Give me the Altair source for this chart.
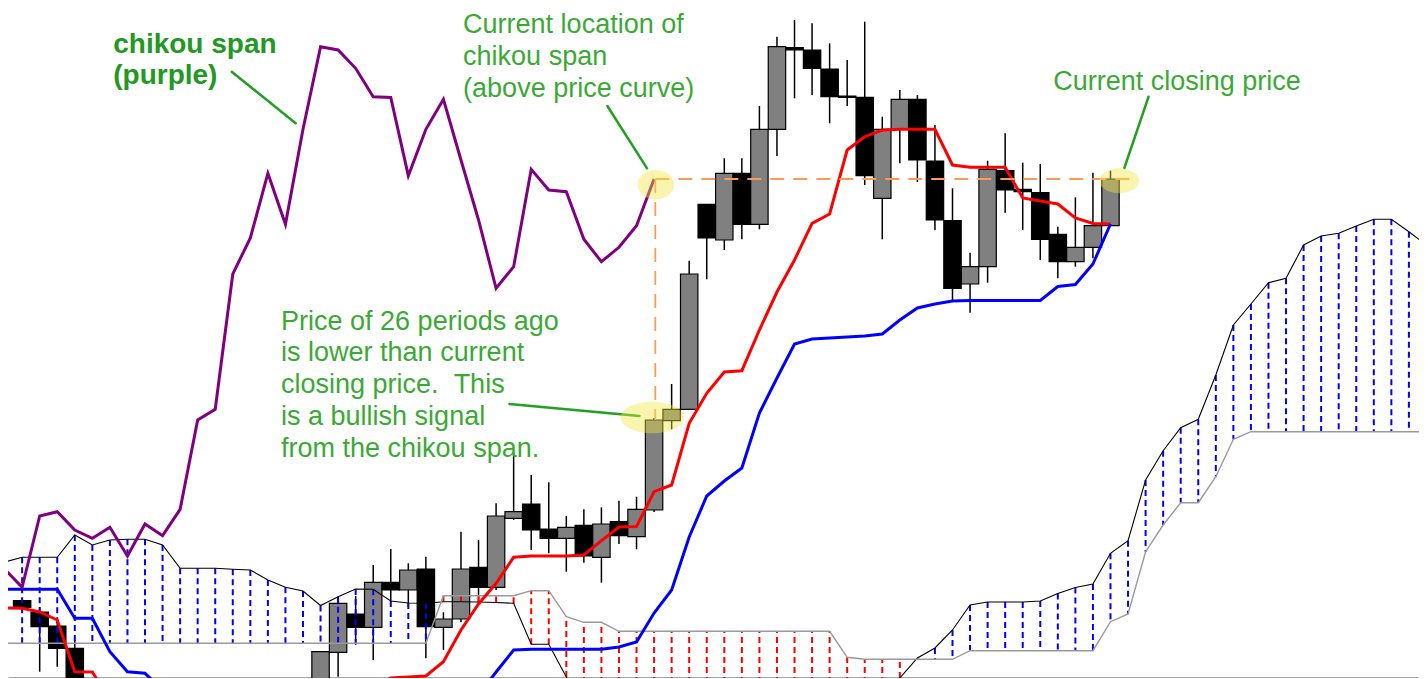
import altair as alt
import pandas as pd

# ---------------- data (price units; bar index on x) ----------------
bar_idx = [0, 1, 2, 3] + list(range(17, 63))
opens = [77.3, 66, 52, 29.7,
         -22, 25.7, 64, 50.7, 95.7, 88, 109, 50.7, 59, 110.7,
         90.7, 159.7, 174, 149, 139.7, 152.7, 120.7, 156.3, 141.3, 168,
         257.3, 268.7, 473.7, 438, 504.7, 453.7, 548.7, 630.5, 628, 609,
         582, 580.7, 479.7, 548.7, 578.7, 517, 457.3, 394, 411.3, 507.3,
         488.7, 485.3, 443.7, 416.3, 430.7, 452.3]
highs = [80, 71, 58, 38,
         26.3, 79.7, 82, 113, 129, 114.7, 121.3, 65.7, 146.3, 138,
         174.7, 224.7, 203, 195.7, 162, 168.7, 170.7, 177.3, 181.3, 260,
         294, 417.3, 474, 519.7, 519.7, 572, 641.3, 658, 654.7, 634.7,
         618, 656.3, 561.3, 588, 583, 553, 489.7, 425.3, 517.3, 544.7,
         515.3, 514, 451.3, 480.7, 505.3, 507.3]
lows = [68, 6.3, 11.3, -22,
        -27, 1.3, 33, 18, 76, 71.3, 19.7, 28, 56, 75,
        88, 158, 128, 124.7, 106.3, 115.3, 95.3, 134, 128.7, 166,
        248.7, 268, 398.7, 428, 438.7, 448.7, 522, 579.7, 583, 554.7,
        572, 493, 438.7, 514.7, 496, 448, 378, 365.3, 395.3, 465.3,
        448, 418, 399.7, 411.3, 419.7, 452]
closes = [70.7, 51.3, 29.7, -17,
          26.3, 74.7, 50.7, 95.7, 88, 108, 51.3, 59, 109, 90.7,
          162, 166.3, 148, 139.7, 150.7, 122, 154, 142.3, 168.7, 258,
          268.7, 404, 440, 504.7, 453.7, 548.7, 631.3, 628, 609.7, 581.3,
          580.5, 502.3, 548.7, 578.7, 518, 458, 389.7, 411.3, 508.7, 488,
          486.3, 438.7, 416.3, 430.7, 452.3, 499]

line_idx = list(range(-1, 63))
tenkan = [70, 69.7, 66, 58, 6.3, 6, -22,
          -30, -30, -30, -30, -30, -30, -30, -30, -30, -30, -30, -30, -30, -30,
          -12, 0, 1, 2,
          16.3, 48, 74, 94.7, 120.7, 122, 122, 122, 123, 137.3, 151, 151.5,
          186.3, 193, 254.7, 284.7, 306, 307.3, 348, 386, 418, 454.7, 464,
          528, 541.3, 548, 548.7, 548.7, 548.7, 513, 510.7, 510.7, 510.7,
          480, 477, 474, 460, 454.5, 454]
kijun = [88.7, 88.7, 88.7, 88.7, 59.7, 59.7, 26.3, 6.3, 4.7, -12,
         -30, -30, -30, -30, -30, -30, -30, -30, -30, -30, -30, -30, -30, -30,
         -30, -30, -30,
         -17, 6, 28, 28.7, 28.7, 28.7, 28.7, 28.7, 31, 36, 65, 88, 141, 182,
         197, 210, 265, 300, 334, 339, 340, 341, 342, 344, 358, 370, 374, 377,
         377.5, 377.5, 377.5, 377.5, 377.5, 391.5, 393.5, 414, 454]

cloud_idx = list(range(-1, 81))
senkou_a = [116, 120.7, 120.7, 120.7, 143, 133, 138, 138.7, 138.7, 133,
            109.7, 109.7, 109.7, 108.7, 108, 98, 90.7, 87, 72.5, 81.3, 89,
            88.7, 77, 75, 74.7, 76.3, 76.3, 76, 75.5, 74.7, 33.7, 33.7, 1,
            -25, -25, -25, -25, -25, -25, -25, -25, -25, -25, -25, -25, -25,
            -25, -25, -25, -25, -25,
            0, 20, 30, 48, 73, 76, 76, 76, 77, 84.5, 90.5, 94, 124.7, 137.3,
            198, 227.3, 250.3, 258.7, 303, 353, 374, 395.3, 399.7, 433, 442,
            444.7, 452, 458.7, 458.7, 446.3, 433]
senkou_b = [34.7, 34.7, 34.7, 34.7, 34.7, 34.7, 34.7, 34.7, 34.7, 34.7,
            34.7, 34.7, 34.7, 34.7, 34.7, 34.7, 34.7, 34.7, 34.7, 34.7,
            34.7, 34.7, 34.7, 34.7, 34.7,
            82.3, 82.3, 82.3, 82.3, 82.3, 87.3, 87.3, 61.3, 55.7, 55.7,
            46.7, 46.7, 46.7, 46.7, 46.7, 46.7, 46.7, 46.7, 46.7, 46.7, 46.7,
            46.7, 46.7,
            20.7, 18.7, 18.7, 18.7, 18.7, 18.7, 18.7,
            27.3, 27.3, 27.3, 27.3, 27.3, 27.3, 27.3, 27.3,
            56.3, 64, 126.3, 153, 175.3, 175.3, 201.3, 238.7,
            246.3, 246.3, 246.3, 246.3, 246.3, 246.3, 246.3, 246.3, 246.3,
            246.3, 246.3]

# annotation texts (x in bar index, y in price)
text_lines = ["Current location of", "chikou span", "(above price curve)",
              "Current closing price",
              "Price of 26 periods ago", "is lower than current",
              "closing price. \u00a0This", "is a bullish signal",
              "from the chikou span."]
text_x = [25.12, 25.12, 25.12, 58.74, 14.75, 14.75, 14.75, 14.75, 14.75]
text_y = [644.7, 613.1, 581.5, 588, 348.5, 316.7, 285, 253.3, 221.5]
bold_lines = ["chikou span", "(purple)"]
bold_x = [5.19, 5.19]
bold_y = [625.3, 594.5]

leader_x = [11.94, 33.34, 27.76, 64.17]
leader_y = [606.3, 572, 274, 581.3]
leader_x2 = [15.58, 35.6, 35.17, 62.79]
leader_y2 = [554.7, 509.7, 262, 510]

hl_x = [36.1, 35.9, 62.5]
hl_y = [493.3, 260.5, 497.2]
hl_rx = [18.3, 31.7, 20]
hl_ry = [14.7, 15.8, 12.5]

# ---------------- tables ----------------
candles = pd.DataFrame({"i": bar_idx, "open": opens, "high": highs,
                        "low": lows, "close": closes})
candles["dir"] = ["up" if c > o else "down" for o, c in zip(opens, closes)]

lines = pd.DataFrame({"i": line_idx, "tenkan": tenkan, "kijun": kijun})

chikou = candles[candles["i"] >= 25][["i", "close"]].copy()
chikou["i"] = chikou["i"] - 26

cloud = pd.DataFrame({"i": cloud_idx, "a": senkou_a, "b": senkou_b})
cloud["kind"] = ["bull" if a >= b else "bear" for a, b in zip(senkou_a, senkou_b)]

last = candles.iloc[-1]
c36 = candles[candles["i"] == 36].iloc[0]
orange = pd.DataFrame({
    "x": [36.07, 36.07], "y": [last["close"], last["close"]],
    "x2": [last["i"] + 1.1, 36.07], "y2": [last["close"], c36["close"]],
})

texts = pd.DataFrame({"t": text_lines, "x": text_x, "y": text_y})
btexts = pd.DataFrame({"t": bold_lines, "x": bold_x, "y": bold_y})
leaders = pd.DataFrame({"x": leader_x, "y": leader_y, "x2": leader_x2, "y2": leader_y2})

hl = pd.DataFrame({"x": hl_x, "y": hl_y})
hl["path"] = [f"M-1,0 A1,{ry / rx:.3f} 0 1,1 1,0 A1,{ry / rx:.3f} 0 1,1 -1,0 Z"
              for rx, ry in zip(hl_rx, hl_ry)]
hl["sz"] = [(2 * rx) ** 2 for rx in hl_rx]

# ---------------- scales ----------------
xs = alt.Scale(domain=[-0.52, 79.29], nice=False, zero=False)
ys = alt.Scale(domain=[0, 670], nice=False, zero=False)
xax = alt.Axis(domain=True, domainColor="#505050", domainWidth=2, ticks=False,
               labels=False, grid=False, title=None)


def X(f="i"):
    return alt.X(f"{f}:Q", scale=xs, axis=xax)


def Y(f):
    return alt.Y(f"{f}:Q", scale=ys, axis=None)


wicks = alt.Chart(candles).mark_rule(color="black", strokeWidth=1.5, clip=True).encode(
    x=X(), y=Y("low"), y2="high")
bodies = alt.Chart(candles).mark_bar(size=17.4, stroke="black", strokeWidth=1.2,
                                     clip=True, orient="vertical").encode(
    x=X(), y=Y("open"), y2="close",
    fill=alt.Fill("dir:N", scale=alt.Scale(domain=["up", "down"],
                                           range=["#808080", "#000000"]), legend=None))
dashes = alt.Chart(cloud).mark_rule(strokeWidth=2, strokeDash=[6, 4], clip=True).encode(
    x=X(), y=Y("a"), y2="b",
    stroke=alt.Stroke("kind:N", scale=alt.Scale(domain=["bull", "bear"],
                                                range=["#0000ff", "#ff0000"]), legend=None))
span_a = alt.Chart(cloud).mark_line(color="#000000", strokeWidth=1.1, clip=True).encode(
    x=X(), y=Y("a"))
span_b = alt.Chart(cloud).mark_line(color="#9a9a9a", strokeWidth=1.4, clip=True).encode(
    x=X(), y=Y("b"))
tenkan_l = alt.Chart(lines).mark_line(color="#ff0000", strokeWidth=3, clip=True).encode(
    x=X(), y=Y("tenkan"))
kijun_l = alt.Chart(lines).mark_line(color="#0000ff", strokeWidth=3, clip=True).encode(
    x=X(), y=Y("kijun"))
chikou_l = alt.Chart(chikou).mark_line(color="#800080", strokeWidth=3, clip=True).encode(
    x=X(), y=Y("close"))
orange_l = alt.Chart(orange).mark_rule(color="#ff9a55", strokeWidth=1.8,
                                       strokeDash=[14, 9]).encode(
    x=X("x"), y=Y("y"), x2="x2", y2="y2")
leader_l = alt.Chart(leaders).mark_rule(color="#22a022", strokeWidth=2.5,
                                        strokeCap="round").encode(
    x=X("x"), y=Y("y"), x2="x2", y2="y2")
text_l = alt.Chart(texts).mark_text(align="left", baseline="alphabetic",
                                    font="Liberation Sans", fontSize=27,
                                    color="#3aaa35").encode(
    x=X("x"), y=Y("y"), text="t:N")
btext_l = alt.Chart(btexts).mark_text(align="left", baseline="alphabetic",
                                      font="Liberation Sans", fontSize=28,
                                      fontWeight="bold", color="#229922").encode(
    x=X("x"), y=Y("y"), text="t:N")
hl_l = alt.Chart(hl).mark_point(filled=True, fill="#f0e840", opacity=0.42,
                                strokeWidth=0).encode(
    x=X("x"), y=Y("y"),
    shape=alt.Shape("path:N", scale=None),
    size=alt.Size("sz:Q", scale=None))

chart = alt.layer(
    wicks, bodies, dashes, span_a, span_b, tenkan_l, kijun_l, chikou_l,
    orange_l, leader_l, text_l, btext_l, hl_l
).properties(
    width=1411, height=670, padding=0, background="white"
).configure_view(stroke=None)

chart.save("out.html", embed_options={"renderer": "svg", "actions": False})
